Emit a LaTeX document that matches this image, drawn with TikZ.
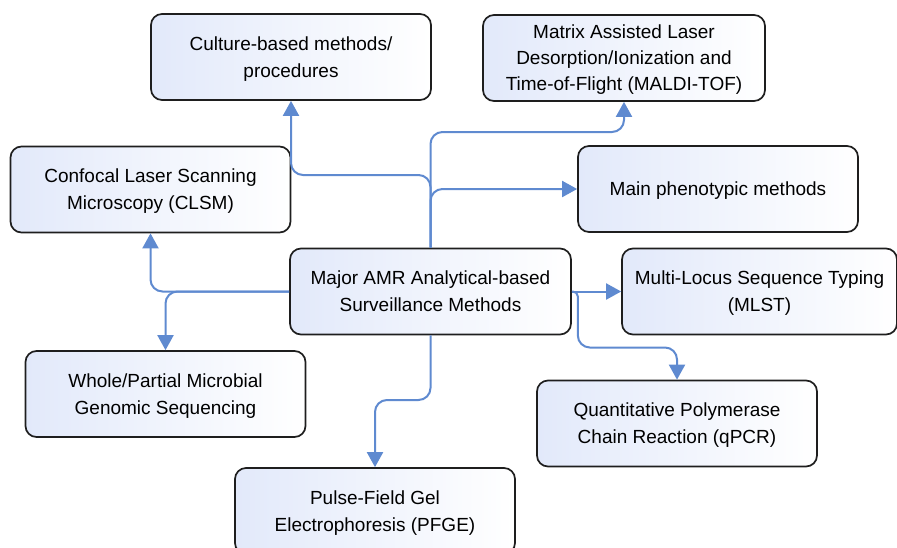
\documentclass[tikz,border=0pt]{standalone}
\usepackage{fontspec}
\setmainfont{Liberation Sans}
\usetikzlibrary{arrows.meta}
\definecolor{linkblue}{HTML}{5F8AD0}
\definecolor{boxtint}{HTML}{E2E9FA}
\definecolor{boxedge}{HTML}{1E1E1E}
\begin{document}
\begin{tikzpicture}[x=1pt,y=-1pt,
  box/.style={draw=boxedge, line width=1.7pt, rounded corners=11pt,
    left color=boxtint, right color=white,
    minimum width=280pt, minimum height=86pt, inner sep=0pt,
    text depth=0pt,
    align=center, font=\fontsize{19}{27}\selectfont},
  conn/.style={draw=linkblue, line width=2pt, rounded corners=12pt,
    -{Triangle[length=15pt,width=16pt]}}]
\useasboundingbox (0,0) rectangle (897,547);
\clip (0,0) rectangle (897,547);

% method boxes
\node[box] (cult)  at (291,57)      {Culture-based methods/\\procedures};
\node[box, minimum width=282pt, font=\fontsize{19}{26}\selectfont] (maldi) at (624,58)
  {Matrix Assisted Laser\\Desorption/Ionization and\\Time-of-Flight (MALDI-TOF)};
\node[box] (clsm)  at (150.5,189.5) {Confocal Laser Scanning\\Microscopy (CLSM)};
\node[box] (main)  at (718,189)     {Main phenotypic methods};
\node[box, minimum width=281pt] (c) at (430.5,291.5)
  {Major AMR Analytical-based\\Surveillance Methods};
\node[box, minimum width=275pt] (mlst) at (759.5,291.5)
  {Multi-Locus Sequence Typing\\(MLST)};
\node[box] (whole) at (165.5,394)   {Whole/Partial Microbial\\Genomic Sequencing};
\node[box] (qpcr)  at (677,423.5)   {Quantitative Polymerase\\Chain Reaction (qPCR)};
\node[box] (pfge)  at (375,511)     {Pulse-Field Gel\\Electrophoresis (PFGE)};

% connectors from the central box
\draw[conn] (c.north) -- (c.north |- 0,175) -| (cult.south);
\draw[conn] (c.north) -- (c.north |- 0,132) -| (maldi.south);
\draw[conn] (c.north) |- (main.west);
\draw[conn] (c.west) -| (clsm.south);
\draw[conn] (c.west) -| (whole.north);
\draw[conn] (c.east) -- (mlst.west);
\draw[conn, rounded corners=5pt] (c.east) -- ++(6,0)
  [rounded corners=12pt] -- ++(0,56) -| (qpcr.north);
\draw[conn] (c.south) -- (c.south |- 0,400) -| (pfge.north);
\end{tikzpicture}
\end{document}
